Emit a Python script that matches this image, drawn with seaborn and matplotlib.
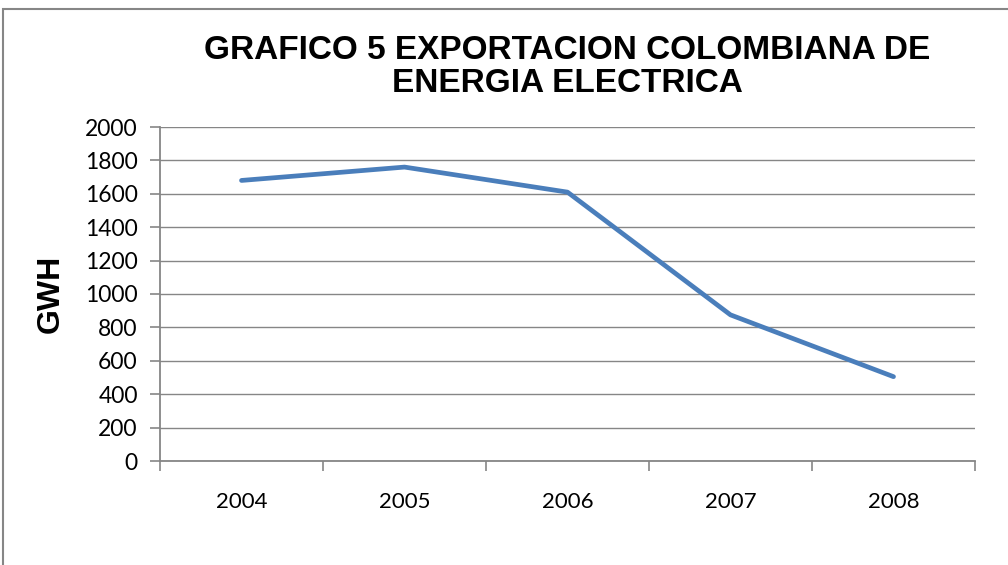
import matplotlib
matplotlib.use("Agg")
import matplotlib.pyplot as plt
import seaborn as sns
import pandas as pd
from matplotlib.patches import Rectangle
from matplotlib.ticker import FixedLocator

years = ["2004", "2005", "2006", "2007", "2008"]
gwh = [1680, 1760, 1610, 875, 505]
yticks = [0, 200, 400, 600, 800, 1000, 1200, 1400, 1600, 1800, 2000]
title = "GRAFICO 5 EXPORTACION COLOMBIANA DE\nENERGIA ELECTRICA"
ylabel = "GWH"

sns.set_theme(style="white")
plt.rcParams["font.family"] = ["Lato", "DejaVu Sans"]
plt.rcParams["text.color"] = "black"

df = pd.DataFrame({"year": years, "gwh": gwh})

fig = plt.figure(figsize=(10.08, 5.65), dpi=100)
ax = fig.add_axes([160/1008, 1 - 461/565, (975-160)/1008, (461-127)/565])

sns.lineplot(data=df, x="year", y="gwh", ax=ax, color="#4A7EBB", linewidth=3.4,
             solid_capstyle="round", solid_joinstyle="round", sort=False)

grid_c = "#868686"
ax.set_ylim(0, 2000)
ax.set_yticks(yticks)
ax.set_yticklabels([str(v) for v in yticks])
ax.yaxis.grid(True, color=grid_c, linewidth=1.0)
ax.xaxis.grid(False)
ax.set_axisbelow(True)

ax.set_xlim(-0.5, len(years) - 0.5)
ax.xaxis.set_major_locator(FixedLocator([i - 0.5 for i in range(len(years) + 1)]))
ax.set_xticklabels([""] * (len(years) + 1))
ax.xaxis.set_minor_locator(FixedLocator(list(range(len(years)))))
ax.set_xticklabels(years, minor=True)
ax.tick_params(axis="x", which="major", length=7, width=1.2, color=grid_c, direction="out", bottom=True)
ax.tick_params(axis="x", which="minor", length=0, pad=22, labelsize=16, labelcolor="black")
ax.tick_params(axis="y", which="major", length=7, width=1.2, color=grid_c, direction="out", left=True,
               labelsize=16.5, labelcolor="black", pad=9)

for s in ["top", "right"]:
    ax.spines[s].set_visible(False)
for s in ["left", "bottom"]:
    ax.spines[s].set_color(grid_c)
    ax.spines[s].set_linewidth(1.3)

ax.set_xlabel("")
ax.set_ylabel(ylabel, fontsize=23, fontweight="bold", family=["Liberation Sans"], color="black")
ax.yaxis.set_label_coords(-0.116, 0.5)

fig.text(567/1008, 1 - 67/565, title, ha="center", va="center", fontsize=24,
         fontweight="bold", family=["Liberation Sans"], linespacing=1.07, color="black")

fig.patches.append(Rectangle((3/1008, -0.1), 1.2, 1 - 9/565 + 0.1, transform=fig.transFigure,
                             fill=False, edgecolor="#868686", linewidth=1.5, zorder=0))

fig.savefig("out.png", dpi=100)
